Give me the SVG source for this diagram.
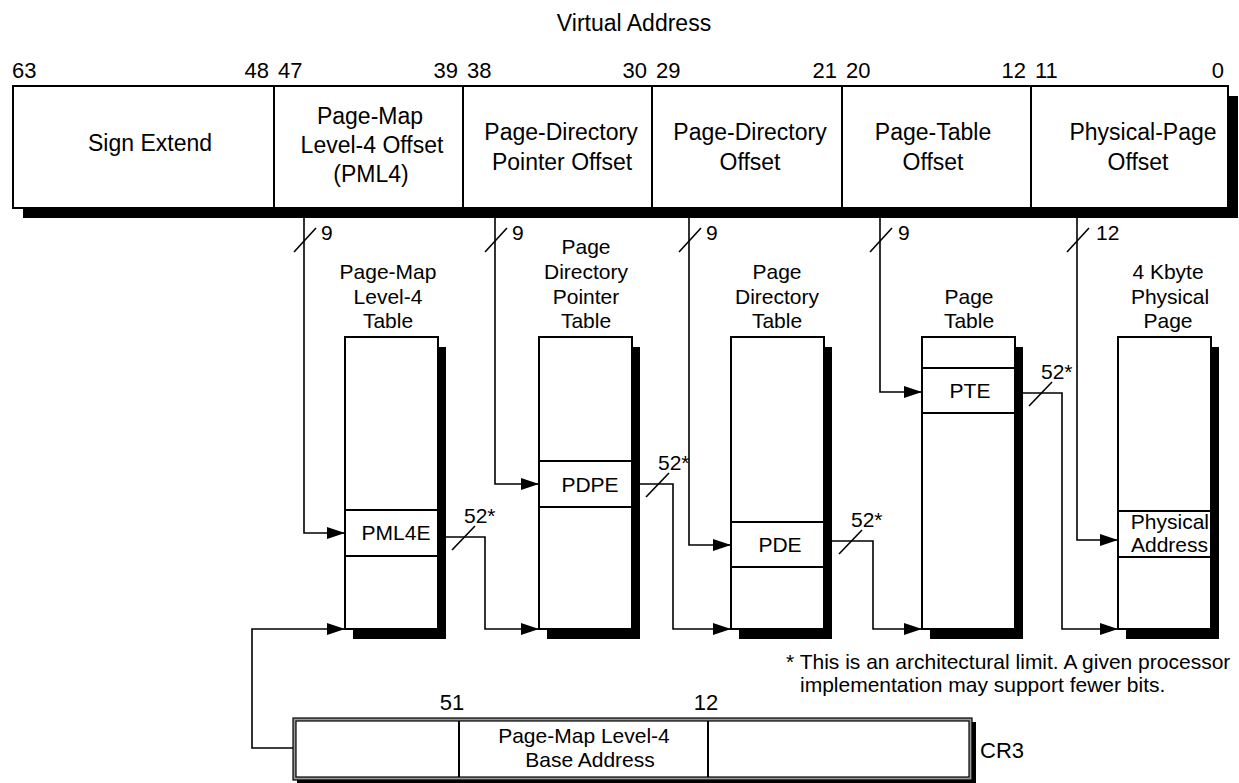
<svg xmlns="http://www.w3.org/2000/svg" width="1239" height="783" viewBox="0 0 1239 783">
<defs>
<marker id="ah" markerWidth="18" markerHeight="12" refX="18" refY="6" orient="auto" markerUnits="userSpaceOnUse"><path d="M0,0 L18,6 L0,12 z" fill="#000"/></marker>
</defs>
<style>
text{font-family:"Liberation Sans",Arial,Helvetica,sans-serif;fill:#000}
.t23{font-size:23px}
.t22{font-size:22px}
.t21{font-size:21px}
.m{text-anchor:middle}
.e{text-anchor:end}
.box{fill:#fff;stroke:#000;stroke-width:2}
.sh{fill:#000}
.dv{stroke:#000;stroke-width:2}
.ln{fill:none;stroke:#000;stroke-width:1.6}
.arr{fill:none;stroke:#000;stroke-width:1.6;marker-end:url(#ah)}
</style>
<rect width="1239" height="783" fill="#fff"/>

<g id="virtual-address">
<text x="634" y="31" class="t23 m">Virtual Address</text>
<text x="12" y="78" class="t22">63</text>
<text x="269" y="78" class="t22 e">48</text>
<text x="278" y="78" class="t22">47</text>
<text x="458" y="78" class="t22 e">39</text>
<text x="467" y="78" class="t22">38</text>
<text x="647" y="78" class="t22 e">30</text>
<text x="656" y="78" class="t22">29</text>
<text x="837" y="78" class="t22 e">21</text>
<text x="846" y="78" class="t22">20</text>
<text x="1026" y="78" class="t22 e">12</text>
<text x="1035" y="78" class="t22">11</text>
<text x="1224" y="78" class="t22 e">0</text>
<rect class="sh" x="23" y="96" width="1215" height="122"/>
<rect class="box" x="13" y="86" width="1215" height="122"/>
<line class="dv" x1="274" y1="86" x2="274" y2="208"/>
<line class="dv" x1="463" y1="86" x2="463" y2="208"/>
<line class="dv" x1="652" y1="86" x2="652" y2="208"/>
<line class="dv" x1="842" y1="86" x2="842" y2="208"/>
<line class="dv" x1="1031" y1="86" x2="1031" y2="208"/>
<text x="150" y="151" class="t23 m">Sign Extend</text>
<text x="370" y="124" class="t23 m">Page-Map</text>
<text x="372" y="153" class="t23 m">Level-4 Offset</text>
<text x="371" y="182" class="t23 m">(PML4)</text>
<text x="561" y="140" class="t23 m">Page-Directory</text>
<text x="562" y="170" class="t23 m">Pointer Offset</text>
<text x="750" y="140" class="t23 m">Page-Directory</text>
<text x="750" y="170" class="t23 m">Offset</text>
<text x="933" y="140" class="t23 m">Page-Table</text>
<text x="933" y="170" class="t23 m">Offset</text>
<text x="1143" y="140" class="t23 m">Physical-Page</text>
<text x="1138" y="170" class="t23 m">Offset</text>
</g>

<g id="pml4-table">
<text x="388" y="279" class="t21 m">Page-Map</text>
<text x="388" y="304" class="t21 m">Level-4</text>
<text x="388" y="328" class="t21 m">Table</text>
<rect class="sh" x="353" y="347" width="93" height="292"/>
<rect class="box" x="345" y="337" width="93" height="292"/>
<line class="dv" x1="345" y1="510" x2="438" y2="510"/>
<line class="dv" x1="345" y1="556" x2="438" y2="556"/>
<text x="396" y="540" class="t21 m">PML4E</text>
</g>

<g id="pdp-table">
<text x="586" y="254" class="t21 m">Page</text>
<text x="586" y="279" class="t21 m">Directory</text>
<text x="586" y="304" class="t21 m">Pointer</text>
<text x="586" y="328" class="t21 m">Table</text>
<rect class="sh" x="547" y="347" width="93" height="292"/>
<rect class="box" x="539" y="337" width="93" height="292"/>
<line class="dv" x1="539" y1="461" x2="632" y2="461"/>
<line class="dv" x1="539" y1="507" x2="632" y2="507"/>
<text x="590" y="492" class="t21 m">PDPE</text>
</g>

<g id="pd-table">
<text x="777" y="279" class="t21 m">Page</text>
<text x="777" y="304" class="t21 m">Directory</text>
<text x="777" y="328" class="t21 m">Table</text>
<rect class="sh" x="739" y="347" width="93" height="292"/>
<rect class="box" x="731" y="337" width="93" height="292"/>
<line class="dv" x1="731" y1="522" x2="824" y2="522"/>
<line class="dv" x1="731" y1="567" x2="824" y2="567"/>
<text x="780" y="552" class="t21 m">PDE</text>
</g>

<g id="page-table">
<text x="969" y="304" class="t21 m">Page</text>
<text x="969" y="328" class="t21 m">Table</text>
<rect class="sh" x="930" y="347" width="93" height="292"/>
<rect class="box" x="922" y="337" width="93" height="292"/>
<line class="dv" x1="922" y1="368" x2="1015" y2="368"/>
<line class="dv" x1="922" y1="413" x2="1015" y2="413"/>
<text x="970" y="398" class="t21 m">PTE</text>
</g>

<g id="physical-page">
<text x="1168" y="279" class="t21 m">4 Kbyte</text>
<text x="1170" y="304" class="t21 m">Physical</text>
<text x="1168" y="328" class="t21 m">Page</text>
<rect class="sh" x="1126" y="347" width="93" height="292"/>
<rect class="box" x="1118" y="337" width="93" height="292"/>
<line class="dv" x1="1118" y1="511" x2="1211" y2="511"/>
<line class="dv" x1="1118" y1="557" x2="1211" y2="557"/>
<text x="1209" y="529" class="t21 e">Physical</text>
<text x="1208" y="552" class="t21 e">Address</text>
</g>

<g id="cr3">
<text x="452" y="710" class="t22 m">51</text>
<text x="706" y="710" class="t22 m">12</text>
<rect class="sh" x="297" y="722" width="679" height="62"/>
<rect x="293" y="718" width="679" height="62" fill="#999" stroke="#000" stroke-width="1.2"/>
<rect x="296" y="721" width="673" height="56" fill="#fff" stroke="#000" stroke-width="1.2"/>
<line class="dv" x1="459" y1="721" x2="459" y2="777"/>
<line class="dv" x1="708" y1="721" x2="708" y2="777"/>
<text x="584" y="743" class="t21 m">Page-Map Level-4</text>
<text x="590" y="767" class="t21 m">Base Address</text>
<text x="980" y="758" class="t22">CR3</text>
</g>

<g id="footnote">
<text x="786" y="669" class="t21">* This is an architectural limit. A given processor</text>
<text x="800" y="692" class="t21">implementation may support fewer bits.</text>
</g>

<g id="connectors">
<path class="arr" d="M304,218 V533 H345"/>
<path class="arr" d="M495,218 V484 H539"/>
<path class="arr" d="M689,218 V545 H731"/>
<path class="arr" d="M880,218 V392 H922"/>
<path class="arr" d="M1077,218 V540 H1118"/>
<path class="arr" d="M446,537 H485 V629 H539"/>
<path class="arr" d="M640,484 H673 V629 H731"/>
<path class="arr" d="M832,541 H873 V629 H922"/>
<path class="arr" d="M1023,393 H1062 V629 H1118"/>
<path class="arr" d="M293,748 H252 V629 H345"/>
<line class="ln" x1="294" y1="252" x2="316" y2="228"/>
<line class="ln" x1="485" y1="252" x2="507" y2="228"/>
<line class="ln" x1="679" y1="252" x2="701" y2="228"/>
<line class="ln" x1="870" y1="252" x2="892" y2="228"/>
<line class="ln" x1="1067" y1="252" x2="1089" y2="228"/>
<text x="321" y="240" class="t21">9</text>
<text x="512" y="240" class="t21">9</text>
<text x="706" y="240" class="t21">9</text>
<text x="898" y="240" class="t21">9</text>
<text x="1096" y="240" class="t21">12</text>
<line class="ln" x1="452" y1="550" x2="475" y2="526"/>
<line class="ln" x1="646" y1="497" x2="669" y2="473"/>
<line class="ln" x1="839" y1="554" x2="862" y2="530"/>
<line class="ln" x1="1029" y1="406" x2="1052" y2="382"/>
<text x="464" y="523" class="t21">52*</text>
<text x="658" y="470" class="t21">52*</text>
<text x="851" y="527" class="t21">52*</text>
<text x="1041" y="379" class="t21">52*</text>
</g>
</svg>
